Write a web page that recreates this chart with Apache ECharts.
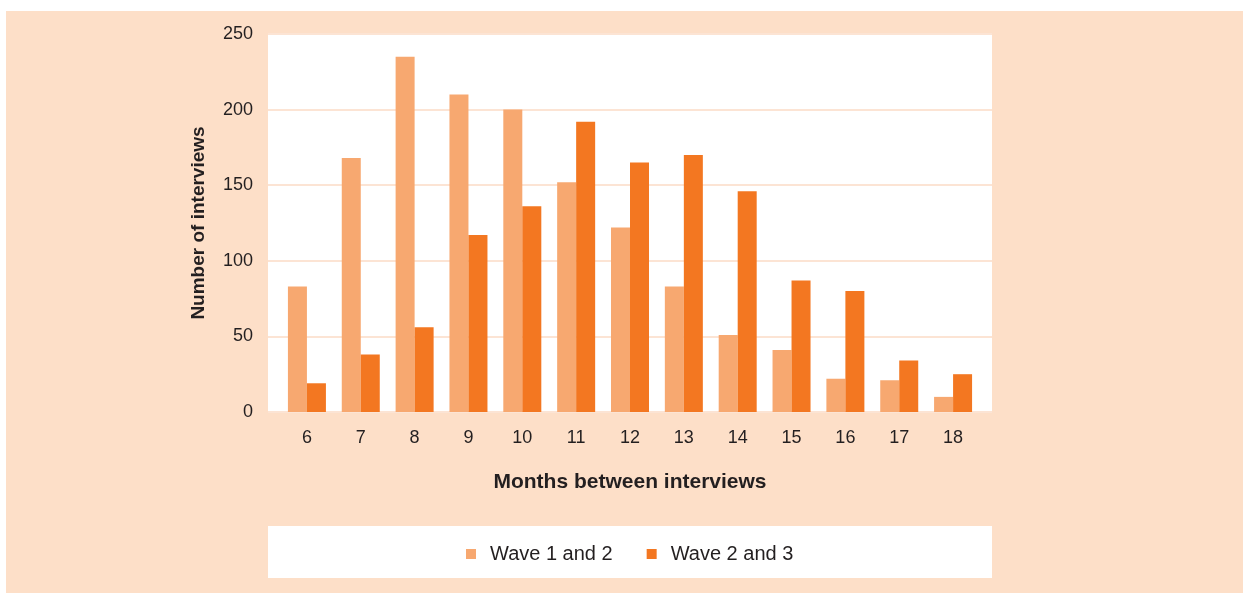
<!DOCTYPE html>
<html>
<head>
<meta charset="utf-8">
<title>Months between interviews</title>
<script src="https://cdn.jsdelivr.net/npm/echarts@6/dist/echarts.min.js"></script>
<style>
  html, body { margin: 0; padding: 0; background: #ffffff; }
  #panel { position: absolute; left: 6px; top: 11px; width: 1237px; height: 582px; background: #FDDFC8; }
  #chart { position: absolute; left: 0; top: 0; width: 1243px; height: 593px; }
</style>
</head>
<body>
<div id="panel"></div>
<div id="chart"></div>
<script>
// Months elapsed between consecutive interviews
const months = ['6', '7', '8', '9', '10', '11', '12', '13', '14', '15', '16', '17', '18'];

// Number of interviews for each pair of waves
const wave1and2 = [83, 168, 235, 210, 200, 152, 122, 83, 51, 41, 22, 21, 10];
const wave2and3 = [19, 38, 56, 117, 136, 192, 165, 170, 146, 87, 80, 34, 25];

// Value axis ticks
const yTicks = [0, 50, 100, 150, 200, 250];

const FONT = '"Liberation Sans", Arial, sans-serif';
const INK = '#231F20';

const chart = echarts.init(document.getElementById('chart'), null, { renderer: 'canvas' });

chart.setOption({
  animation: false,
  backgroundColor: 'transparent',
  textStyle: { fontFamily: FONT },
  graphic: [
    { type: 'rect', shape: { x: 268, y: 526, width: 724, height: 52 }, style: { fill: '#ffffff' }, silent: true }
  ],
  grid: [
    // white plotting panel carrying the value axis and its gridlines
    { left: 268, right: 251, top: 34, bottom: 181, show: true, backgroundColor: '#ffffff', borderWidth: 0 },
    // bars sit slightly inset from the panel edges
    { left: 280, right: 263, top: 34, bottom: 181 }
  ],
  legend: {
    left: 461,
    top: 539,
    itemWidth: 10,
    itemHeight: 10,
    itemGap: 34,
    icon: 'rect',
    textStyle: { fontFamily: FONT, fontSize: 20, color: INK, padding: [0, 0, 0, 9] },
    data: ['Wave 1 and 2', 'Wave 2 and 3']
  },
  xAxis: [
    { type: 'value', gridIndex: 0, show: false, min: 0, max: 1 },
    {
      type: 'category',
      gridIndex: 1,
      data: months,
      axisLine: { show: false },
      axisTick: { show: false },
      axisLabel: { fontFamily: FONT, fontSize: 18, color: INK, margin: 17 },
      name: 'Months between interviews',
      nameLocation: 'middle',
      nameGap: 60,
      nameTextStyle: { fontFamily: FONT, fontSize: 21, fontWeight: 'bold', color: INK }
    }
  ],
  yAxis: [
    {
      type: 'value',
      gridIndex: 0,
      min: yTicks[0],
      max: yTicks[yTicks.length - 1],
      interval: yTicks[1] - yTicks[0],
      axisLine: { show: false },
      axisTick: { show: false },
      axisLabel: { fontFamily: FONT, fontSize: 18, color: INK, margin: 15, padding: [3, 0, 0, 0] },
      splitLine: { show: true, lineStyle: { color: '#FCE4D4', width: 2 } },
      name: 'Number of interviews',
      nameLocation: 'middle',
      nameGap: 60,
      nameTextStyle: { fontFamily: FONT, fontSize: 19, fontWeight: 'bold', color: INK }
    },
    {
      type: 'value',
      gridIndex: 1,
      min: yTicks[0],
      max: yTicks[yTicks.length - 1],
      show: false
    }
  ],
  series: [
    {
      name: 'Wave 1 and 2',
      type: 'bar',
      xAxisIndex: 1,
      yAxisIndex: 1,
      data: wave1and2,
      barWidth: 19,
      barGap: '0%',
      itemStyle: { color: '#F7A870' }
    },
    {
      name: 'Wave 2 and 3',
      type: 'bar',
      xAxisIndex: 1,
      yAxisIndex: 1,
      data: wave2and3,
      barWidth: 19,
      barGap: '0%',
      itemStyle: { color: '#F37721' }
    }
  ]
});
</script>
</body>
</html>
